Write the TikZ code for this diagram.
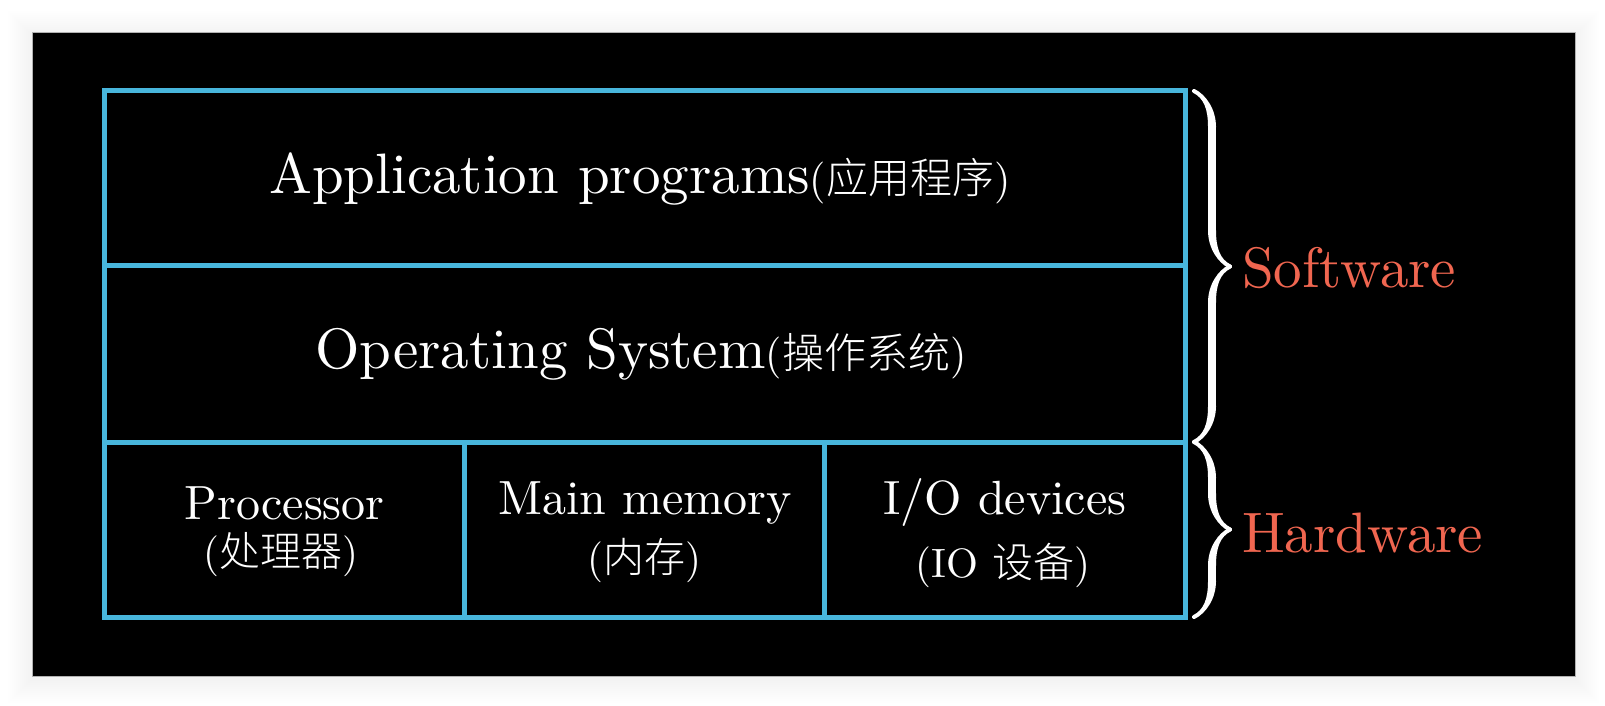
\documentclass[tikz,border=0pt]{standalone}
\usepackage{fontspec}
\setmainfont{lmroman10-regular.otf}
\newfontfamily\cjk{Noto Sans CJK SC Light}
\usetikzlibrary{decorations.pathreplacing,calligraphy}
\definecolor{boxblue}{RGB}{72,182,220}
\definecolor{coral}{RGB}{240,102,80}
\begin{document}
\begin{tikzpicture}[x=1pt,y=-1pt,
  cell/.style={draw=boxblue, line width=5pt, inner sep=0pt, outer sep=0pt, rectangle},
  lbl/.style={text=white, inner sep=0pt, outer sep=0pt, anchor=base},
  big/.style={font=\fontsize{57}{60}\selectfont},
  mid/.style={font=\fontsize{48}{52}\selectfont},
  small/.style={font=\fontsize{41}{44}\selectfont},
  side/.style={text=coral, inner sep=0pt, anchor=base west, font=\fontsize{57}{60}\selectfont},
  bracestyle/.style={draw=white, pen colour={white}, line width=8pt, decorate, decoration={calligraphic brace, amplitude=36pt}}]
\useasboundingbox (0,0) rectangle (1605,706);
\fill[white] (0,0) rectangle (1605,706);
% soft shadow
\foreach \i in {1,...,12}{
  \fill[black, opacity=0.005] (32-2*\i,32-2*\i+3) rectangle (1575+2*\i,676+2*\i+3);
}
\fill[black] (32,32) rectangle (1575,676);
\draw[gray!60, line width=0.8pt] (32,32) rectangle (1575,676);
% cells
\node[cell, minimum width=1080.5pt, minimum height=174.5pt] (app) at (644.75,177.75) {};
\node[cell, minimum width=1080.5pt, minimum height=177pt] (os) at (644.75,353.5) {};
\node[cell, minimum width=360.2pt, minimum height=175pt] (cpu) at (284.6,529.5) {};
\node[cell, minimum width=360.1pt, minimum height=175pt] (mem) at (644.75,529.5) {};
\node[cell, minimum width=360.2pt, minimum height=175pt] (io) at (1004.9,529.5) {};
% texts
\node[lbl, big] (tapp) at (640,193) {Application programs{\fontsize{42}{45}\selectfont({\cjk 应用程序})}};
\node[lbl, big] (tos) at (641,368) {Operating System{\fontsize{42}{45}\selectfont({\cjk 操作系统})}};
\node[lbl, mid] (tcpu) at (284.6,519) {Processor};
\node[lbl, small] (tcpu2) at (281,566) {({\cjk 处理器})};
\node[lbl, mid] (tmem) at (644.75,514) {Main memory};
\node[lbl, small] (tmem2) at (644.75,572) {({\cjk 内存})};
\node[lbl, mid] (tio) at (1004.9,514) {I/O devices};
\node[lbl, small] (tio2) at (1003,577) {(IO {\cjk 设备})};
% braces
\coordinate (swtop) at (1194,91);
\coordinate (swbot) at (1194,442);
\coordinate (hwbot) at (1194,617);
\draw[bracestyle] (swtop) -- (swbot);
\draw[bracestyle] (swbot) -- (hwbot);
\node[side] (sw) at (1242,287) {Software};
\node[side] (hw) at (1242,552) {Hardware};
\end{tikzpicture}
\end{document}
